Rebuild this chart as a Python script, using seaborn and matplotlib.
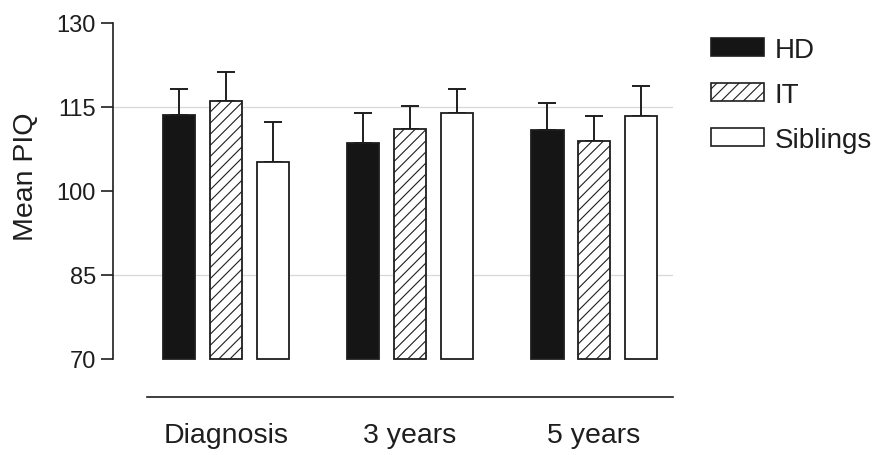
import numpy as np
import pandas as pd
import matplotlib
matplotlib.use("Agg")
import matplotlib.pyplot as plt
from matplotlib.patches import Patch
import seaborn as sns

# Mean performance IQ per group at each assessment, with upper error bars
timepoints = ["Diagnosis", "3 years", "5 years"]
groups = ["HD", "IT", "Siblings"]
hd_mean = [113.6, 108.5, 110.9]
it_mean = [116.1, 111.0, 109.0]
sib_mean = [105.2, 114.0, 113.4]
hd_err = [4.7, 5.5, 4.8]
it_err = [5.2, 4.1, 4.3]
sib_err = [7.2, 4.3, 5.4]
y_ticks = [70, 85, 100, 115, 130]
grid_levels = [85, 115]
y_label = "Mean PIQ"

sns.set_theme(style="white")
plt.rcParams["font.family"] = ["Liberation Sans", "DejaVu Sans"]
plt.rcParams["hatch.linewidth"] = 0.8
plt.rcParams["hatch.color"] = "#333333"

ink = "#1e1e1e"
dark = "#151515"

df = pd.DataFrame({
    "time": timepoints * len(groups),
    "group": [g for g in groups for _ in timepoints],
    "piq": hd_mean + it_mean + sib_mean,
})
errs = {"HD": hd_err, "IT": it_err, "Siblings": sib_err}

fig = plt.figure(figsize=(8.84, 4.56), dpi=100)
ax = fig.add_axes([0.1278, 0.2057, 0.6335, 0.7417])

palette = {"HD": dark, "IT": "white", "Siblings": "white"}
sns.barplot(data=df, x="time", y="piq", hue="group", order=timepoints,
            hue_order=groups, palette=palette, saturation=1, width=0.76,
            gap=0.31, errorbar=None, edgecolor=ink, linewidth=1.3,
            legend=False, ax=ax, zorder=3)

# hatch the IT bars
for p in ax.containers[1]:
    p.set_hatch("///")

# bars rise from the bottom of the scale; one-sided error bars on top
base = y_ticks[0]
for container, g in zip(ax.containers, groups):
    xs, tops = [], []
    for p in container:
        top = p.get_y() + p.get_height()
        p.set_y(base)
        p.set_height(top - base)
        xs.append(p.get_x() + p.get_width() / 2)
        tops.append(top)
    ax.errorbar(xs, tops, yerr=[np.zeros(len(tops)), errs[g]], fmt="none",
                ecolor=ink, elinewidth=1.4, capsize=6.5, capthick=1.4, zorder=2)

for v in grid_levels:
    ax.axhline(v, color="#d8d8d8", lw=0.9, zorder=1)

ax.set_xlim(-0.614, 2.429)
ax.set_ylim(69.6, 130)
ax.set_yticks(y_ticks)

ax.spines["top"].set_visible(False)
ax.spines["right"].set_visible(False)
ax.spines["left"].set_bounds(70, 130)
ax.spines["left"].set_color(ink)
ax.spines["left"].set_linewidth(1.2)
ax.spines["bottom"].set_position(("outward", 26))
ax.spines["bottom"].set_bounds(-0.43, 2.43)
ax.spines["bottom"].set_color(ink)
ax.spines["bottom"].set_linewidth(1.2)

ax.tick_params(axis="y", left=True, length=8.6, width=1.2, color=ink, pad=3.6,
               labelsize=17, labelcolor=ink, direction="out")
ax.tick_params(axis="x", bottom=False, length=0, pad=18, labelsize=20.5,
               labelcolor=ink)
ax.set_xlabel("")
ax.set_ylabel(y_label, fontsize=20.5, color=ink)
ax.yaxis.set_label_coords(-0.132, 0.549)

handles = [
    Patch(facecolor=dark, edgecolor=ink, lw=1.2),
    Patch(facecolor="white", edgecolor=ink, hatch="///", lw=1.2),
    Patch(facecolor="white", edgecolor=ink, lw=1.2),
]
fig.legend(handles, groups, loc="upper left", bbox_to_anchor=(0.804, 0.917),
           frameon=False, fontsize=20, handlelength=1.9, handleheight=0.62,
           handletextpad=0.4, labelspacing=0.68, borderpad=0, borderaxespad=0,
           labelcolor=ink)

fig.savefig("out.png", dpi=100)
